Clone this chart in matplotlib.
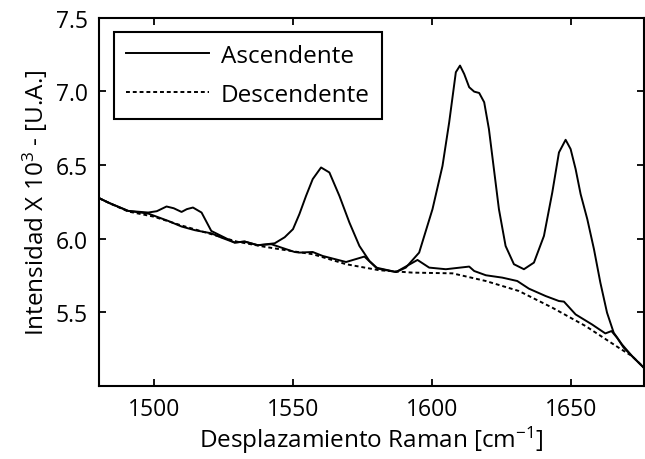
import matplotlib
matplotlib.use("Agg")
import matplotlib.pyplot as plt

plt.rcParams['font.family'] = ['Open Sans', 'DejaVu Sans']
plt.rcParams['mathtext.default'] = 'regular'

# Ascendente (curva con picos)
x_asc = [1480.3, 1484.2, 1490.8, 1498.0, 1501.1, 1504.6, 1507.2, 1510.0, 1511.9, 1514.1,
         1517.2, 1520.7, 1524.3, 1529.1, 1532.7, 1537.4, 1543.5, 1547.1, 1550.1, 1552.4,
         1554.8, 1557.2, 1560.2, 1563.2, 1566.8, 1570.4, 1574.0, 1577.6, 1580.6, 1587.2,
         1590.7, 1595.5, 1600.3, 1603.9, 1606.3, 1608.7, 1610.2, 1611.7, 1613.5, 1615.3,
         1617.1, 1618.9, 1620.6, 1622.4, 1624.2, 1626.6, 1629.6, 1633.2, 1636.8, 1640.4,
         1643.4, 1645.8, 1648.2, 1650.0, 1651.8, 1653.6, 1656.0, 1658.4, 1660.7, 1663.1,
         1665.5, 1668.5, 1672.1, 1676.3]
y_asc = [6.276, 6.241, 6.189, 6.178, 6.187, 6.219, 6.207, 6.182, 6.201, 6.212,
         6.178, 6.053, 6.019, 5.974, 5.981, 5.956, 5.969, 6.010, 6.065, 6.167,
         6.291, 6.405, 6.484, 6.450, 6.291, 6.110, 5.951, 5.849, 5.797, 5.774,
         5.804, 5.906, 6.201, 6.495, 6.790, 7.131, 7.176, 7.119, 7.029, 6.999,
         6.990, 6.927, 6.745, 6.473, 6.201, 5.951, 5.827, 5.793, 5.838, 6.019,
         6.314, 6.586, 6.672, 6.609, 6.473, 6.303, 6.133, 5.929, 5.702, 5.498,
         5.362, 5.282, 5.203, 5.124]

# segunda curva continua (sin picos)
x_base = [1480.3, 1484.2, 1490.8, 1498.0, 1505.2, 1510.0, 1514.8, 1520.7, 1524.3, 1529.1,
          1532.7, 1537.5, 1542.3, 1545.9, 1550.7, 1552.4, 1557.2, 1560.8, 1569.2, 1575.8,
          1580.0, 1587.2, 1594.9, 1599.1, 1605.1, 1613.5, 1615.3, 1619.5, 1625.4, 1630.8,
          1635.0, 1641.0, 1645.8, 1647.6, 1651.8, 1657.7, 1662.5, 1664.7, 1666.7, 1669.1,
          1672.7, 1676.3]
y_base = [6.276, 6.241, 6.189, 6.171, 6.121, 6.083, 6.058, 6.037, 6.008, 5.974,
          5.981, 5.956, 5.963, 5.940, 5.910, 5.906, 5.910, 5.883, 5.842, 5.879,
          5.804, 5.774, 5.856, 5.804, 5.793, 5.811, 5.781, 5.752, 5.736, 5.713,
          5.661, 5.611, 5.577, 5.573, 5.486, 5.418, 5.357, 5.373, 5.328, 5.260,
          5.192, 5.126]

# Descendente
x_desc = [1480.3, 1484.2, 1490.8, 1500.0, 1510.0, 1520.0, 1530.0, 1540.0, 1550.0, 1557.2,
          1569.2, 1581.2, 1593.1, 1607.5, 1619.5, 1631.4, 1643.4, 1655.4, 1667.3, 1672.1,
          1676.3]
y_desc = [6.276, 6.240, 6.185, 6.150, 6.090, 6.035, 5.980, 5.945, 5.915, 5.895,
          5.827, 5.786, 5.770, 5.765, 5.713, 5.645, 5.532, 5.407, 5.260, 5.203,
          5.126]

fig = plt.figure(figsize=(6.45, 4.6), dpi=100)
ax = fig.add_axes([0.1535, 0.1587, 0.8445, 0.8003])

ax.plot(x_asc, y_asc, color='black', lw=1.4, label='Ascendente')
ax.plot(x_base, y_base, color='black', lw=1.4)
ax.plot(x_desc, y_desc, color='black', lw=1.4, ls=(0, (2, 1.5)), label='Descendente')

ax.set_xlim(1480.3, 1676.3)
ax.set_ylim(5.0, 7.5)
ax.set_xticks([1500, 1550, 1600, 1650])
ax.set_yticks([5.5, 6.0, 6.5, 7.0, 7.5])
ax.set_yticklabels(['5.5', '6.0', '6.5', '7.0', '7.5'])
ax.tick_params(direction='in', top=True, right=True, labelsize=16.5, length=5, width=1.3, pad=8)
for s in ax.spines.values():
    s.set_linewidth(1.5)

ax.set_xlabel('Desplazamiento Raman [cm$^{-1}$]', fontsize=17.5, labelpad=2)
ax.set_ylabel('Intensidad X 10$^{3}$ - [U.A.]', fontsize=17.5, labelpad=4)

leg = ax.legend(loc='upper left', bbox_to_anchor=(0.0275, 0.962), borderaxespad=0,
                fontsize=17.5, handlelength=3.4, handletextpad=0.5, fancybox=False,
                framealpha=1, edgecolor='black', borderpad=0.5, labelspacing=0.6)
leg.get_frame().set_linewidth(1.5)

fig.savefig('out.png', dpi=100)
